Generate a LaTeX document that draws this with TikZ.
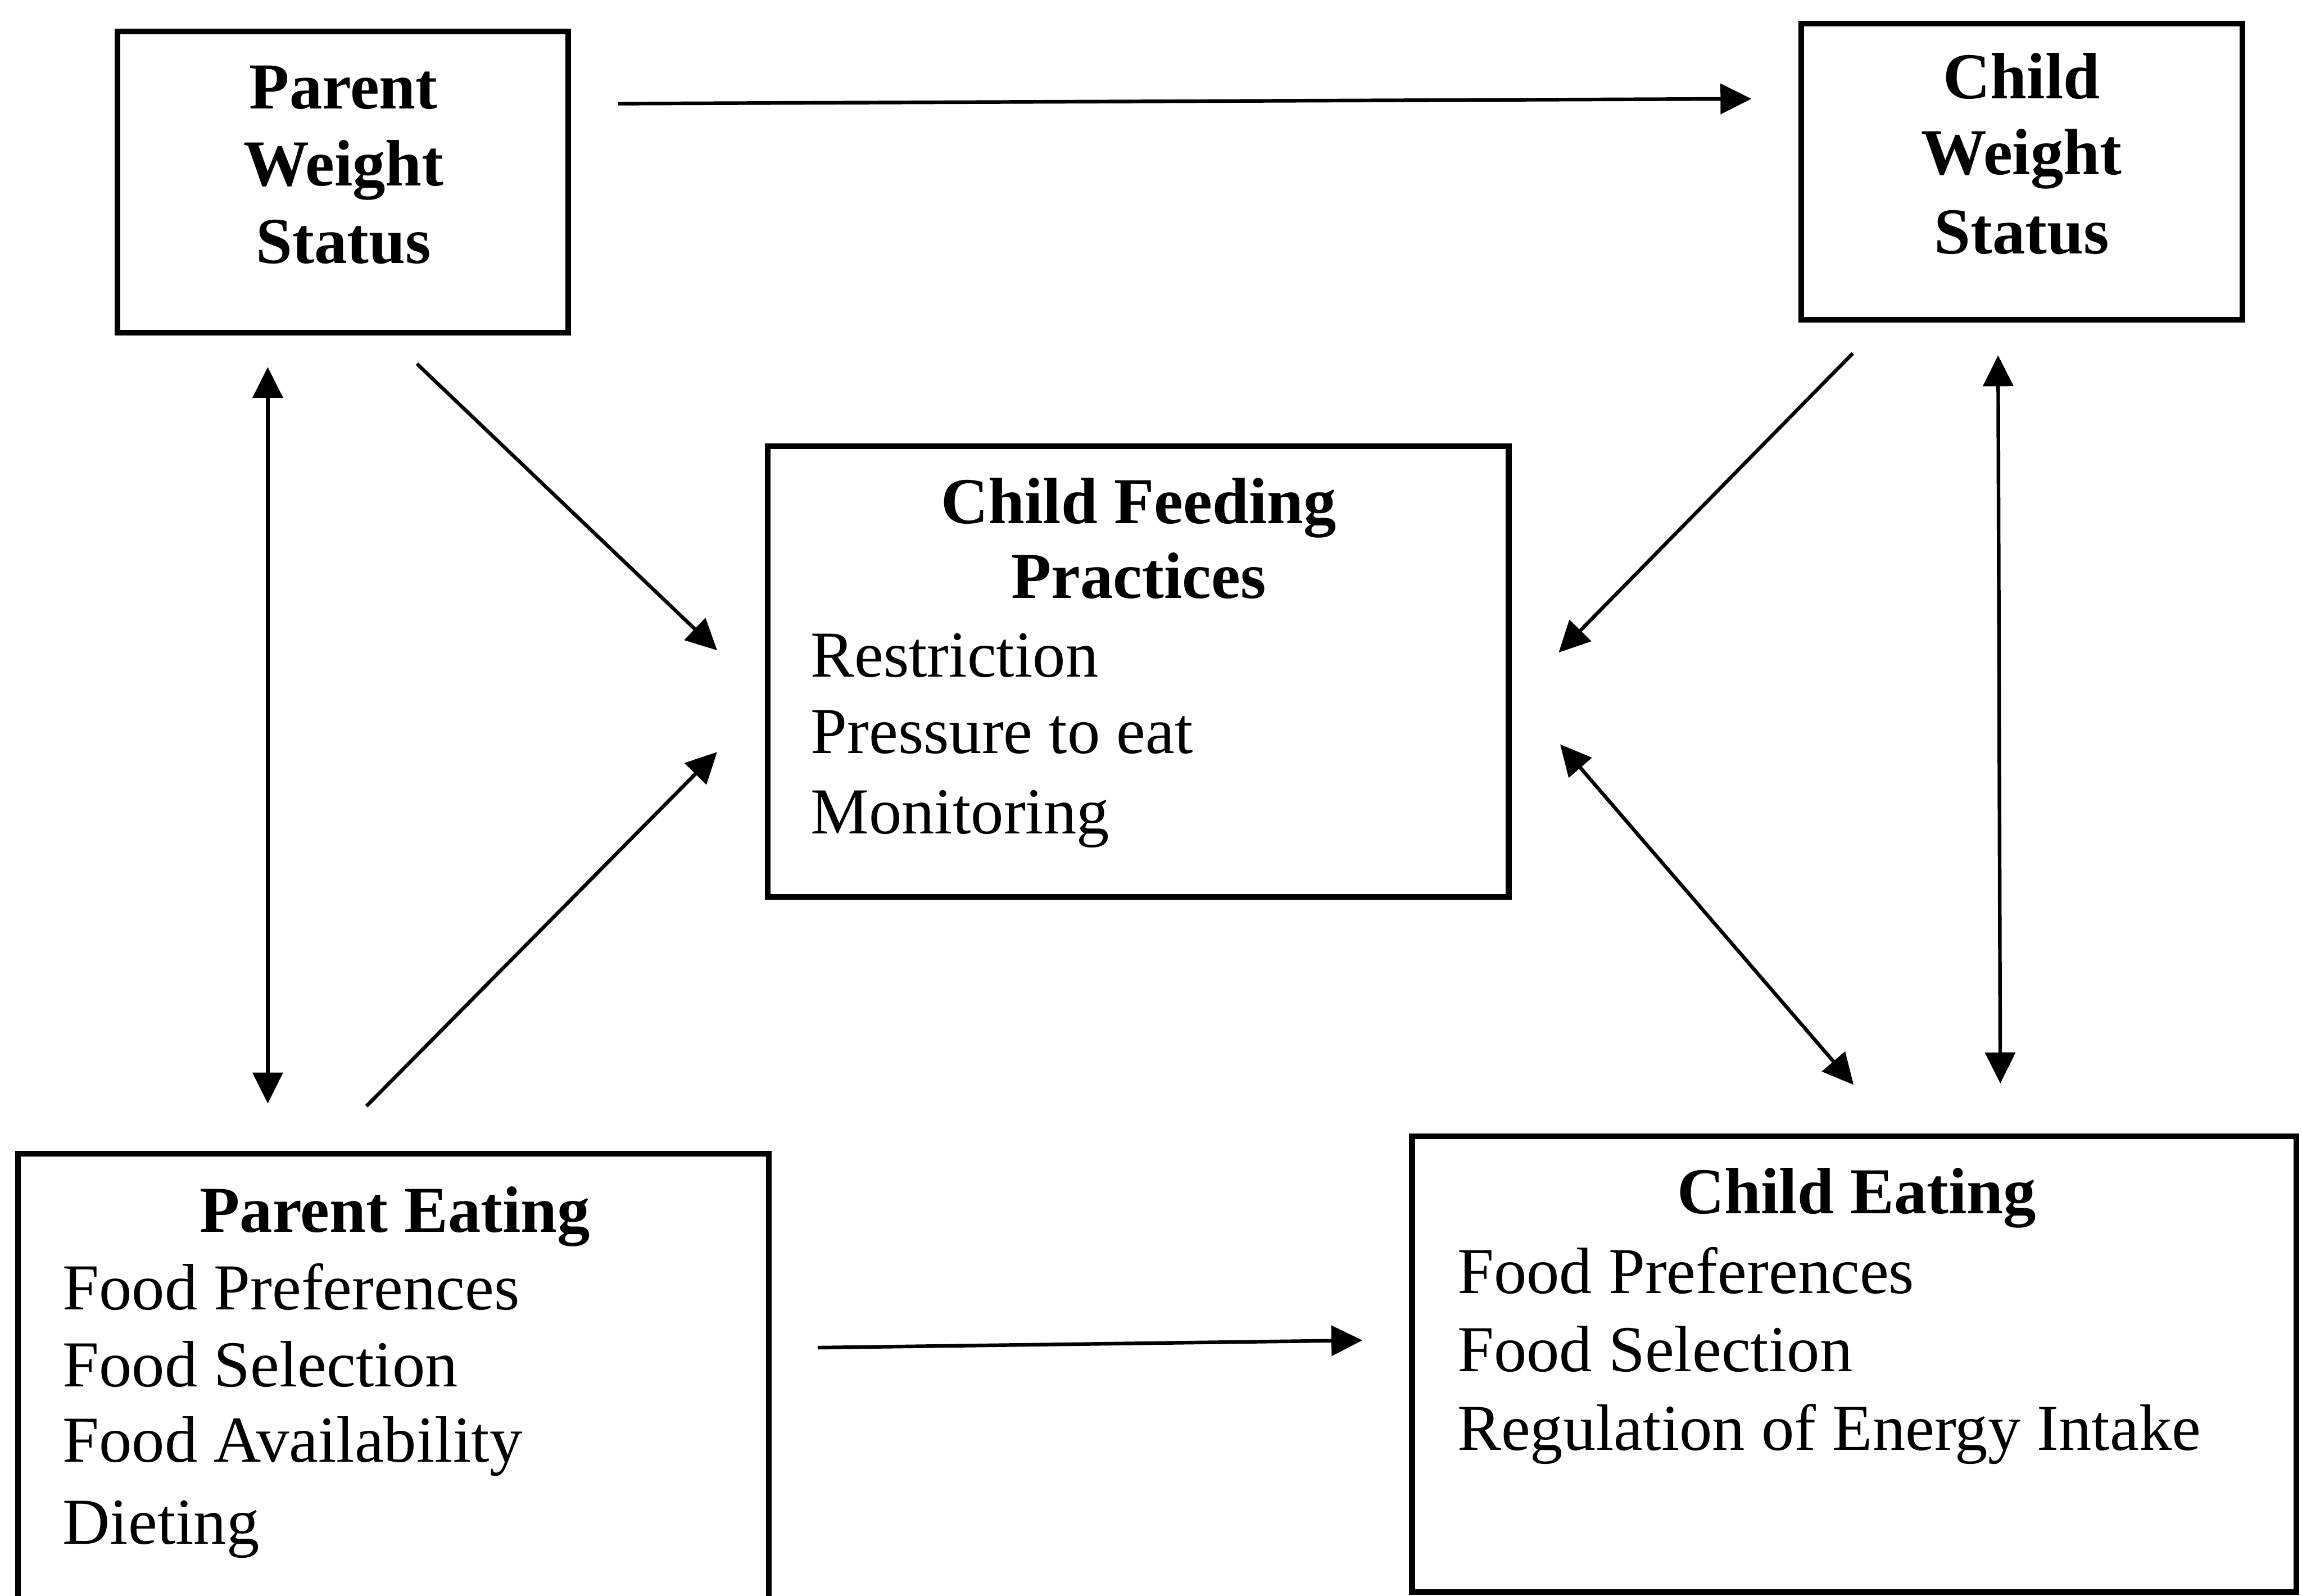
\documentclass[tikz,border=0pt]{standalone}
\usepackage{fontspec}
\setmainfont{Liberation Serif}
\usetikzlibrary{arrows.meta}
\begin{document}
\begin{tikzpicture}[x=0.01cm,y=-0.01cm,
  box/.style={draw, line width=1.1pt, inner sep=0pt},
  conn/.style={line width=0.7pt, -{Triangle[length=6pt,width=5.8pt]}},
  biconn/.style={line width=0.7pt, {Triangle[length=6pt,width=5.8pt]}-{Triangle[length=6pt,width=5.8pt]}},
  ttl/.style={font=\fontsize{12.7}{15}\selectfont\bfseries, anchor=base, inner sep=0pt},
  itm/.style={font=\fontsize{12.7}{15}\selectfont, anchor=base west, inner sep=0pt}]
\useasboundingbox (0,0) rectangle (1568,1087);
\clip (0,0) rectangle (1568,1087);

% boxes
\node[box, minimum width=3.07cm, minimum height=2.05cm] (pws) at (233.5,124) {};
\node[box, minimum width=3.005cm, minimum height=2.016cm] (cws) at (1377.25,116.8) {};
\node[box, minimum width=5.045cm, minimum height=3.07cm] (cfp) at (775.25,457.5) {};
\node[box, minimum width=5.11cm, minimum height=3.14cm] (pe) at (268,943) {};
\node[box, minimum width=6.02cm, minimum height=3.105cm] (ce) at (1263,929.25) {};

% texts
\node[ttl] (pws1) at (234,74) {Parent};
\node[ttl] (pws2) at (234,126.5) {Weight};
\node[ttl] (pws3) at (234,179.5) {Status};

\node[ttl] (cws1) at (1377,67.3) {Child};
\node[ttl] (cws2) at (1377,118.8) {Weight};
\node[ttl] (cws3) at (1377,172.8) {Status};

\node[ttl] (cfp1) at (775.6,356.4) {Child Feeding};
\node[ttl] (cfp2) at (775.6,407.5) {Practices};
\node[itm] (cfp3) at (551.5,461) {Restriction};
\node[itm] (cfp4) at (551.5,513) {Pressure to eat};
\node[itm] (cfp5) at (551.5,568) {Monitoring};

\node[ttl] (pe1) at (269,839.4) {Parent Eating};
\node[itm] (pe2) at (42,892) {Food Preferences};
\node[itm] (pe3) at (42,944.5) {Food Selection};
\node[itm] (pe4) at (42,996) {Food Availability};
\node[itm] (pe5) at (42,1051.7) {Dieting};

\node[ttl] (ce1) at (1264.7,826.5) {Child Eating};
\node[itm] (ce2) at (992,881) {Food Preferences};
\node[itm] (ce3) at (992,934.3) {Food Selection};
\node[itm] (ce4) at (992,987.8) {Regulation of Energy Intake};

% connector end points
\coordinate (a1s) at (421,70.6);   \coordinate (a1e) at (1193,67.3);
\coordinate (a2s) at (284,247.8);  \coordinate (a2e) at (488.5,443);
\coordinate (a3s) at (1262,240.7); \coordinate (a3e) at (1061.7,444.5);
\coordinate (a4s) at (249.6,753.5); \coordinate (a4e) at (488.5,512.2);
\coordinate (a5s) at (182.4,250);  \coordinate (a5e) at (182.4,751.7);
\coordinate (a6s) at (1361,242);   \coordinate (a6e) at (1362.5,738);
\coordinate (a7s) at (1062.7,507); \coordinate (a7e) at (1262.6,739);
\coordinate (a8s) at (557,918);    \coordinate (a8e) at (928,913);

\draw[conn] (a1s) -- (a1e);
\draw[conn] (a2s) -- (a2e);
\draw[conn] (a3s) -- (a3e);
\draw[conn] (a4s) -- (a4e);
\draw[biconn] (a5s) -- (a5e);
\draw[biconn] (a6s) -- (a6e);
\draw[biconn] (a7s) -- (a7e);
\draw[conn] (a8s) -- (a8e);
\end{tikzpicture}
\end{document}
